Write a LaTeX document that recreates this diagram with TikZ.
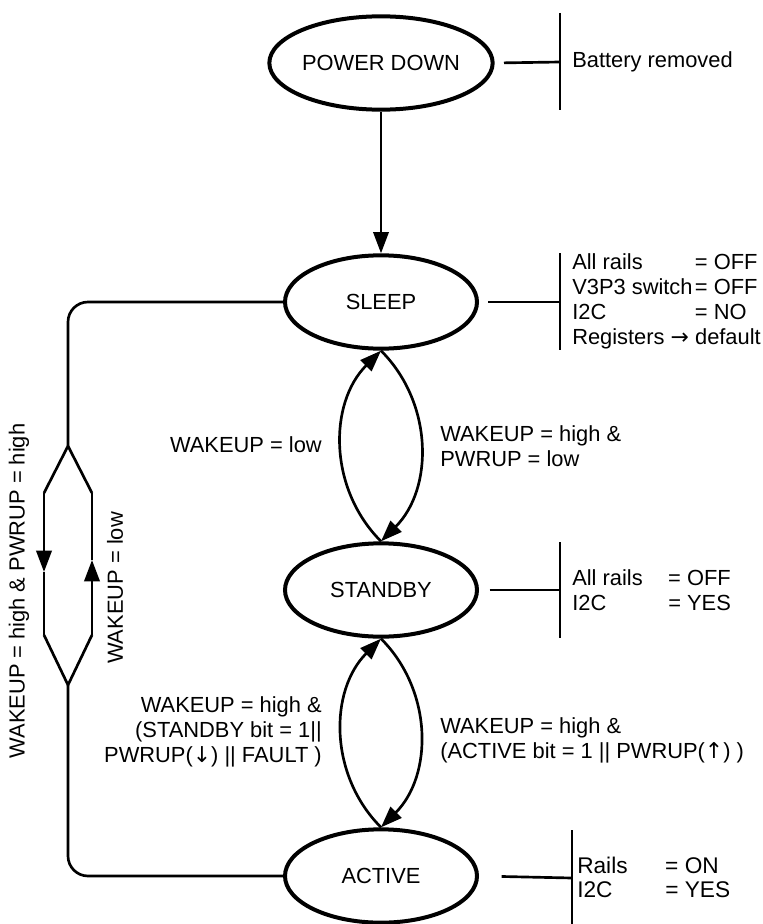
\documentclass[tikz,border=0pt]{standalone}
\usepackage{fontspec}
\setmainfont{Liberation Sans}
\newfontfamily\symfont{DejaVu Sans}
\usetikzlibrary{shapes.geometric,arrows.meta}
\tikzset{
  state/.style={ellipse, draw, line width=3pt, minimum width=144pt, minimum height=70pt, inner sep=0pt},
  wire/.style={line width=2pt},
  arr/.style={wire, -{Triangle[length=16pt,width=11.5pt]}},
  note/.style={anchor=west, align=left, inner sep=0pt},
}
\begin{document}
\begin{tikzpicture}[x=0.75pt, y=-0.75pt, font=\fontsize{16.4}{18.75}\selectfont]
  \useasboundingbox (0,0) rectangle (763,924);

  % states
  \node[state] (pd) at (381,63) {POWER DOWN};
  \node[state] (sleep) at (381,302) {SLEEP};
  \node[state] (standby) at (381,590) {STANDBY};
  \node[state] (active) at (381,876) {ACTIVE};

  % transitions
  \draw[arr] (pd) -- (sleep);
  \draw[arr] (standby.north) to[bend left=45] (sleep.south);
  \draw[arr] (sleep.south) to[bend left=45] (standby.north);
  \draw[arr] (active.north) to[bend left=45] (standby.south);
  \draw[arr] (standby.south) to[bend left=45] (active.north);

  \node[anchor=east, inner sep=0pt] (lowlbl) at (322,445) {WAKEUP = low};
  \node[note] (wakelbl) at (440,446) {WAKEUP = high \&\\PWRUP = low};
  \node[anchor=east, align=right, inner sep=0pt] (stbylbl) at (322,732)
    {WAKEUP = high \&\\(STANDBY bit = 1||\\PWRUP({\symfont ↓}) || FAULT )};
  \node[note] (actlbl) at (440,740) {WAKEUP = high \&\\(ACTIVE bit = 1 || PWRUP({\symfont ↑}) )};

  % loop sleep <-> active
  \coordinate (dtop) at (68,446);
  \coordinate (dbot) at (68,685);
  \coordinate (dl1) at (44,493);
  \coordinate (dl2) at (44,635);
  \coordinate (dr1) at (92,493);
  \coordinate (dr2) at (92,635);
  \coordinate (dlm) at (44,572);
  \coordinate (drm) at (92,560);
  \draw[wire, rounded corners=15pt] (sleep.west) -| (dtop);
  \draw[wire, rounded corners=15pt] (active.west) -| (dbot);
  \draw[wire] (dtop) -- (dl1) (dl2) -- (dbot) -- (dr2) (dr1) -- (dtop);
  \draw[arr] (dl1) -- (dlm);
  \draw[wire] (dlm) -- (dl2);
  \draw[arr] (dr2) -- (drm);
  \draw[wire] (drm) -- (dr1);
  \node[rotate=90, inner sep=0pt] (looplbl) at (19,591) {WAKEUP = high \& PWRUP = high};
  \node[rotate=90, inner sep=0pt] (backlbl) at (115,588) {WAKEUP = low};

  % state info
  \coordinate (pdbar) at (560,62);
  \draw[wire, shorten <=7pt] (pd.east) -- (pdbar);
  \draw[wire] (pdbar) ++(0,-49) -- ++(0,97);
  \node[note] (pdinfo) at (572,62) {Battery removed};

  \coordinate (sleepbar) at (560,302);
  \draw[wire, shorten <=7pt] (sleep.east) -- (sleepbar);
  \draw[wire] (sleepbar) ++(0,-49) -- ++(0,97);
  \node[note] (sleepinfo) at (572,301)
    {\makebox[92pt][l]{All rails}= OFF\\\makebox[92pt][l]{V3P3 switch}= OFF\\
     \makebox[92pt][l]{I2C}= NO\\Registers {\symfont →} default};

  \coordinate (stbybar) at (560,590);
  \draw[wire, shorten <=8pt] (standby.east) -- (stbybar);
  \draw[wire] (stbybar) ++(0,-48) -- ++(0,96);
  \node[note] (stbyinfo) at (572,590)
    {\makebox[72pt][l]{All rails}= OFF\\\makebox[72pt][l]{I2C}= YES};

  \coordinate (actbar) at (572,878);
  \draw[wire, shorten <=17pt] (active.east) -- (actbar);
  \draw[wire] (actbar) ++(0,-48) -- ++(0,98);
  \node[note, font=\fontsize{17}{18}\selectfont] (actinfo) at (577,877)
    {\makebox[66pt][l]{Rails}= ON\\\makebox[66pt][l]{I2C}= YES};
\end{tikzpicture}
\end{document}
